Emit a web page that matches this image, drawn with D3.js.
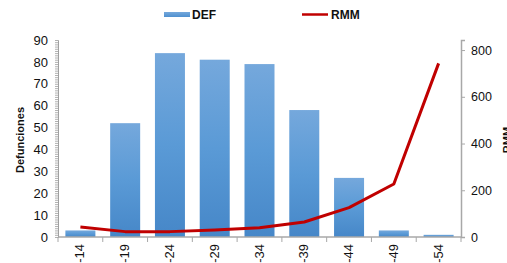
<!DOCTYPE html>
<html><head><meta charset="utf-8">
<script src="https://cdn.jsdelivr.net/npm/d3@7"></script>
<style>body{margin:0;background:#fff;}svg{display:block;font-family:Arial,"Liberation Sans",sans-serif;}</style>
</head><body><svg id="c" width="507" height="263"></svg>
<script>
const categories = ["10-14","15-19","20-24","25-29","30-34","35-39","40-44","45-49","50-54"];
const defValues = [3, 52, 84, 81, 79, 58, 27, 3, 1];
const rmmValues = [43, 23, 23, 30, 40, 64, 126, 227, 743];
const leftTicks = [0,10,20,30,40,50,60,70,80,90];
const rightTicks = [0,200,400,600,800];

const svg = d3.select("#c");
const L = 58, R = 461, T = 40, B = 237;
const x = d3.scaleBand().domain(categories).range([L, R]).paddingInner(0.33).paddingOuter(0.165);
const yL = d3.scaleLinear().domain([0, 90]).range([B, T]);
const yR = d3.scaleLinear().domain([0, 843]).range([B, T]);

const defs = svg.append("defs");
const g = defs.append("linearGradient").attr("id","bg").attr("x1",0).attr("y1",0).attr("x2",0).attr("y2",1);
g.append("stop").attr("offset","0%").attr("stop-color","#75a8dc");
g.append("stop").attr("offset","50%").attr("stop-color","#5a9ad6");
g.append("stop").attr("offset","100%").attr("stop-color","#4687c8");
const gb = defs.append("linearGradient").attr("id","bgs").attr("x1",0).attr("y1",0).attr("x2",0).attr("y2",1);
gb.append("stop").attr("offset","0%").attr("stop-color","#75a8dc");
gb.append("stop").attr("offset","100%").attr("stop-color","#4f90cf");

// bars
svg.append("g").selectAll("rect").data(defValues).join("rect")
  .attr("x",(d,i)=>x(categories[i]))
  .attr("y",d=>yL(d))
  .attr("width",x.bandwidth())
  .attr("height",d=>B-yL(d))
  .attr("fill","url(#bg)");

// left axis
const leftAxis = svg.append("g").attr("transform",`translate(${L},0)`)
  .call(d3.axisLeft(yL).tickValues(d3.range(0,91,1)).tickSize(3).tickFormat(""));
leftAxis.selectAll("line").attr("stroke","#b0b0b0");
leftAxis.select(".domain").attr("stroke","#a0a0a0");
svg.append("g").attr("transform",`translate(${L},0)`)
  .call(d3.axisLeft(yL).tickValues(leftTicks).tickSize(0).tickPadding(10))
  .call(a=>{a.select(".domain").remove(); a.selectAll("text").attr("font-size",13).attr("fill","#111").attr("font-family","Arial, 'Liberation Sans', sans-serif");});

// right axis
const rAx = svg.append("g").attr("transform",`translate(${R},0)`)
  .call(d3.axisRight(yR).tickValues(rightTicks).tickSize(4).tickPadding(6));
rAx.select(".domain").attr("stroke","#a8a8a8").attr("stroke-width",1.5);
rAx.selectAll("line").attr("stroke","#a8a8a8");
rAx.selectAll("text").attr("font-size",12.5).attr("fill","#111").attr("font-family","Arial, 'Liberation Sans', sans-serif");

// x axis
const xa = svg.append("g").attr("transform",`translate(0,${B})`);
xa.append("line").attr("x1",L).attr("x2",R).attr("stroke","#a8a8a8").attr("stroke-width",1.5);
const step = x.step();
xa.selectAll("line.t").data(d3.range(categories.length+1)).join("line").attr("class","t")
  .attr("x1",i=>L+i*step).attr("x2",i=>L+i*step).attr("y1",0).attr("y2",5).attr("stroke","#a8a8a8");
xa.selectAll("text").data(categories).join("text")
  .attr("transform",d=>`translate(${x(d)+x.bandwidth()/2+4},7) rotate(-90)`)
  .attr("text-anchor","end").attr("font-size",13).attr("fill","#111")
  .text(d=>d);

// line
const line = d3.line().x((d,i)=>x(categories[i])+x.bandwidth()/2).y(d=>yR(d));
svg.append("path").datum(rmmValues).attr("d",line).attr("fill","none")
  .attr("stroke","#c00000").attr("stroke-width",3).attr("stroke-linejoin","round");

// titles
svg.append("text").attr("transform","translate(24,140) rotate(-90)").attr("text-anchor","middle")
  .attr("font-size",11).attr("font-weight","bold").attr("fill","#111").text("Defunciones");
svg.append("text").attr("transform","translate(511,140) rotate(-90)").attr("text-anchor","middle")
  .attr("font-size",11).attr("font-weight","bold").attr("fill","#111").text("RMM");

// legend
svg.append("rect").attr("x",164).attr("y",12).attr("width",26).attr("height",5).attr("fill","url(#bgs)");
svg.append("text").attr("x",192).attr("y",19).attr("font-size",12).attr("font-weight","bold").attr("fill","#111").text("DEF");
svg.append("line").attr("x1",302).attr("x2",328).attr("y1",14.5).attr("y2",14.5).attr("stroke","#c00000").attr("stroke-width",2.5);
svg.append("text").attr("x",331).attr("y",19).attr("font-size",12).attr("font-weight","bold").attr("fill","#111").text("RMM");
</script></body></html>
